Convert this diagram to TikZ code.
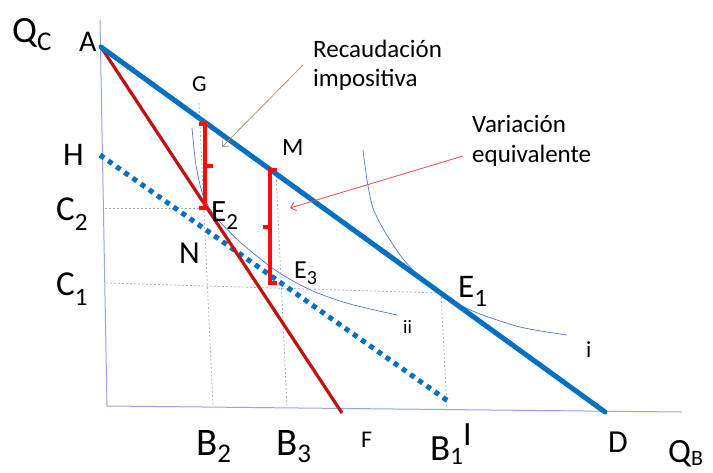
\documentclass[tikz,border=0pt]{standalone}
\usepackage{fontspec}
\setmainfont{Carlito}
\usetikzlibrary{arrows.meta}
\definecolor{bl}{RGB}{0,112,192}
\definecolor{dred}{RGB}{192,16,16}
\definecolor{brk}{RGB}{255,10,10}
\definecolor{axc}{RGB}{150,165,225}
\definecolor{dsh}{RGB}{160,170,215}
\definecolor{crv}{RGB}{80,120,205}
\definecolor{tanc}{RGB}{195,145,100}
\definecolor{pnk}{RGB}{240,70,90}
\newcommand\fs[1]{\fontsize{#1}{#1}\selectfont}
\newcommand\sbx[3]{\raisebox{-#1pt}{\fs{#2}#3}}
\tikzset{
  lbl/.style={inner sep=0pt, anchor=base west, text=black},
  axisln/.style={draw=axc, line width=1pt},
  guide/.style={draw=dsh, line width=0.7pt, dash pattern=on 2pt off 2pt},
  budget/.style={draw=bl, line width=5pt},
  taxline/.style={draw=dred, line width=3.2pt},
  dotline/.style={draw=bl, line width=5pt, dash pattern=on 5pt off 5pt},
  bracketln/.style={draw=brk, line width=3.2pt},
  indiff/.style={draw=crv, line width=0.7pt},
  note/.style={inner sep=0pt, anchor=base west, text=black, font=\fs{25}},
}
\begin{document}
\begin{tikzpicture}[x=1pt,y=-1pt]
\fill[white] (0,0) rectangle (713,472);
\useasboundingbox (0,0) rectangle (713,472);
% key points
\coordinate (A) at (101,47);
\coordinate (D) at (605,412);
\coordinate (F) at (342,413);
\coordinate (H) at (100,155);
\coordinate (Hend) at (448,401);
\coordinate (E2) at (206,208);
\coordinate (E3) at (283,285);
\coordinate (E1) at (441,293);
\coordinate (ytop) at (100,20);
\coordinate (O) at (107,406);
\coordinate (xend) at (682,412);
% axes
\draw[axisln] (ytop) -- (O) -- (xend);
% guide lines
\coordinate (c2l) at (105,208);
\coordinate (c1l) at (106,283);
\coordinate (Gt) at (199,103);
\coordinate (B2b) at (213,406);
\coordinate (B3t) at (276,172);
\coordinate (B3b) at (287,407);
\coordinate (B1b) at (447,409);
\draw[guide] (c2l) -- (E2);
\draw[guide] (c1l) -- (E1);
\draw[guide] (Gt) -- (B2b);
\draw[guide] (B3t) -- (B3b);
\draw[guide] (E1) -- (B1b);
% indifference curves
\draw[indiff] plot[smooth] coordinates {(192,128) (196,165) (203,195) (215,216) (240,242) (278,272) (313,291) (350,304) (397,315)};
\draw[indiff] plot[smooth] coordinates {(363,150) (373,208) (400,255) (425,281) (448,298) (475,312) (520,327) (567,335)};
% lines
\draw[dotline] (H) -- (Hend);
\draw[taxline] (A) -- (F);
\draw[budget, line cap=round] (A) -- (D);
% red brackets
\draw[bracketln] (199,124) -- (205,124) -- (205,208) -- (199,208);
\draw[bracketln] (205,166) -- (213,166);
\draw[bracketln] (277,170) -- (270,170) -- (270,283) -- (277,283);
\draw[bracketln] (270,227) -- (263,227);
% labels
\node[lbl, font=\fs{37}] (QC) at (12,42) {Q\sbx{8}{27}{C}};
\node[lbl, font=\fs{30}] (lA) at (79,51) {A};
\node[lbl, font=\fs{23}] (lG) at (192,91) {G};
\node[lbl, font=\fs{33}] (lH) at (63,165) {H};
\node[lbl, font=\fs{25}] (lM) at (282,155) {M};
\node[lbl, font=\fs{35}] (lC2) at (56,220) {C\sbx{10}{25}{2}};
\node[lbl, font=\fs{35}] (lC1) at (56,295) {C\sbx{10}{25}{1}};
\node[lbl, font=\fs{32}] (lN) at (179,263) {N};
\node[lbl, font=\fs{31}] (lE2) at (211,221) {E\sbx{8}{23}{2}};
\node[lbl, font=\fs{26}] (lE3) at (294,278) {E\sbx{6}{20}{3}};
\node[lbl, font=\fs{33}] (lE1) at (458,297) {E\sbx{9}{25}{1}};
\node[lbl, font=\fs{19}] (lii) at (403,333) {ii};
\node[lbl, font=\fs{23}] (li) at (586,357) {i};
\node[lbl, font=\fs{39}] (lB2) at (196,455) {B\sbx{7}{27}{2}};
\node[lbl, font=\fs{39}] (lB3) at (276,455) {B\sbx{7}{27}{3}};
\node[lbl, font=\fs{24}] (lF) at (361,447) {F};
\node[lbl, font=\fs{37}] (lB1) at (430,460) {B\sbx{4}{25}{1}};
\node[lbl, font=\fs{34}] (lI) at (463,445) {I};
\node[lbl, font=\fs{32}] (lD) at (608,452) {D};
\node[lbl, font=\fs{34}] (QB) at (668,462) {Q\sbx{3}{22}{B}};
% notes
\node[note] (rec1) at (313,57) {Recaudación};
\node[note] (rec2) at (313,86) {impositiva};
\node[note] (var1) at (472,132) {Variación};
\node[note] (var2) at (472,162) {equivalente};
\coordinate (recfrom) at (303,65);
\coordinate (recto) at (222,147);
\coordinate (varfrom) at (463,156);
\coordinate (varto) at (290,208);
\draw[draw=tanc, line width=0.8pt, -{Straight Barb[length=5pt,width=9pt]}] (recfrom) -- (recto);
\draw[draw=pnk, line width=0.8pt, -{Straight Barb[length=5pt,width=9pt]}] (varfrom) -- (varto);
\end{tikzpicture}
\end{document}
